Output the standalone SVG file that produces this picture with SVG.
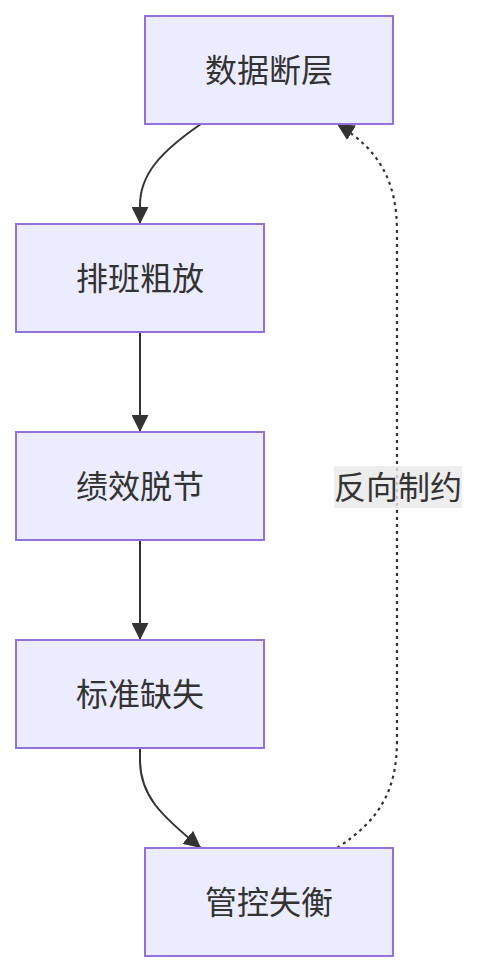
<svg xmlns="http://www.w3.org/2000/svg" width="478" height="972" viewBox="0 0 478 972">
<style>
.node rect{fill:#ECECFF;stroke:#9370DB;stroke-width:2}
.node text,.lbl text{font-family:"Noto Sans CJK SC","Noto Sans",sans-serif;font-size:32px;fill:#333;text-anchor:middle;dominant-baseline:central}
.edge{fill:none;stroke:#333;stroke-width:2}
.dash{stroke-dasharray:3 4;stroke-width:2.2}
</style>
<defs>
<marker id="arr" viewBox="0 0 10 10" refX="10" refY="5" markerUnits="userSpaceOnUse" markerWidth="17" markerHeight="17" orient="auto">
<path d="M0,0 L10,5 L0,10 z" fill="#333"/>
</marker>
</defs>
<g id="edges">
<path class="edge" d="M201,124 C160,152 140,175 140,205 L140,224" marker-end="url(#arr)"/>
<path class="edge" d="M140,332 L140,432" marker-end="url(#arr)"/>
<path class="edge" d="M140,540 L140,640" marker-end="url(#arr)"/>
<path class="edge" d="M140,748 L140,760 C140,795 160,815 201,848" marker-end="url(#arr)"/>
<path class="edge dash" d="M337,848 C380,820 397,790 397,740 L397,232 C397,182 380,150 337,124" marker-end="url(#arr)"/>
</g>
<g id="label-fanxiang" class="lbl">
<rect x="334" y="466" width="128" height="42" fill="#e8e8e8" opacity="0.8"/>
<text x="398" y="485">反向制约</text>
</g>
<g id="n1" class="node"><rect x="145" y="16" width="248" height="108"/><text x="269" y="68">数据断层</text></g>
<g id="n2" class="node"><rect x="16" y="224" width="248" height="108"/><text x="140" y="276">排班粗放</text></g>
<g id="n3" class="node"><rect x="16" y="432" width="248" height="108"/><text x="140" y="484">绩效脱节</text></g>
<g id="n4" class="node"><rect x="16" y="640" width="248" height="108"/><text x="140" y="692">标准缺失</text></g>
<g id="n5" class="node"><rect x="145" y="848" width="248" height="108"/><text x="269" y="900">管控失衡</text></g>
</svg>
